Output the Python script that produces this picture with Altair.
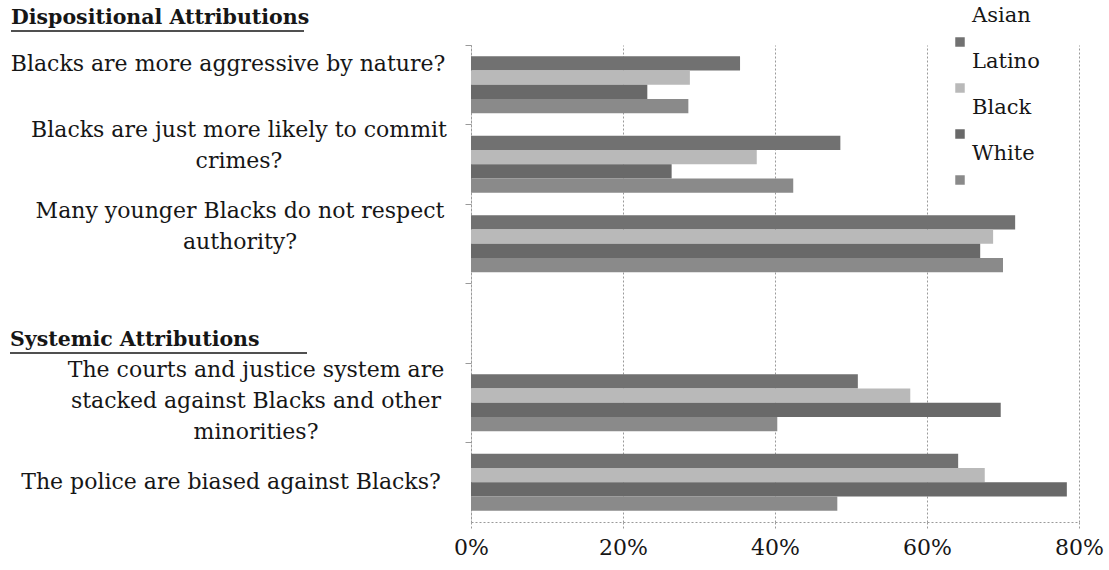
import altair as alt
import pandas as pd

# Survey items, top to bottom; "gap" is an empty row separating the two sections
item_ids = ["aggressive", "crimes", "authority", "gap", "courts", "police"]

groups = ["Asian", "Latino", "Black", "White"]
group_colors = ["#717171", "#b9b9b9", "#696969", "#8a8a8a"]

# Share agreeing (percent) per group, for the five items that have bars
bar_items = ["aggressive", "crimes", "authority", "courts", "police"]
asian = [35.4, 48.6, 71.6, 50.9, 64.1]
latino = [28.8, 37.6, 68.7, 57.8, 67.6]
black = [23.2, 26.4, 67.0, 69.7, 78.4]
white = [28.6, 42.4, 70.0, 40.3, 48.2]

# Item wording shown at the left of each row
bar_item_labels = [
    "Blacks are more aggressive by nature?",
    "Blacks are just more likely to commit\ncrimes?",
    "Many younger Blacks do not respect\nauthority?",
    "The courts and justice system are\nstacked against Blacks and other\nminorities?",
    "The police are biased against Blacks?",
]

x_ticks = [0, 0.2, 0.4, 0.6, 0.8]

# Layout (pixels): plot origin, label centre x and first-line y
W, H = 608, 477
LEFT, TOP = 471, 45
label_center_px = [228, 239, 240, 256, 231]
label_first_line_px = [64, 130, 211, 370, 482]
FONT = "DejaVu Serif"
INK = "#161616"
GRID = "#9a9a9a"

rows = []
for g, vals in zip(groups, [asian, latino, black, white]):
    for item, v in zip(bar_items, vals):
        rows.append({"item": item, "group": g, "value": v / 100})
bars_df = pd.DataFrame(rows)

labels_df = pd.DataFrame({
    "item": bar_items,
    "label": bar_item_labels,
    "cx": [c - LEFT for c in label_center_px],
    "cy": [c - TOP for c in label_first_line_px],
})

legend_df = pd.DataFrame({
    "group": groups,
    "rank": list(range(len(groups))),
})
legend_df["ty"] = -29 + 46 * legend_df["rank"]
legend_df["sy"] = legend_df["ty"] + 26

y_scale = alt.Scale(domain=item_ids, paddingInner=0, paddingOuter=0)
color_scale = alt.Scale(domain=groups, range=group_colors)

bars = alt.Chart(bars_df).mark_bar().encode(
    x=alt.X(
        "value:Q",
        scale=alt.Scale(domain=[0, 0.8], nice=False),
        axis=alt.Axis(
            values=x_ticks, format="%", title=None, grid=True,
            gridDash=[2, 2], gridColor=GRID, gridWidth=1,
            domainDash=[2, 2], domainColor=GRID,
            tickSize=6, tickColor=GRID, tickDash=[2, 2],
            labelFont=FONT, labelFontSize=22, labelColor=INK,
            labelPadding=9, labelFlush=False,
        ),
    ),
    y=alt.Y(
        "item:N", scale=y_scale, sort=item_ids,
        axis=alt.Axis(
            labels=False, title=None, bandPosition=0, grid=False,
            domainDash=[2, 2], domainColor=GRID,
            tickSize=6, tickColor=GRID,
        ),
    ),
    yOffset=alt.YOffset(
        "group:N", sort=groups,
        scale=alt.Scale(domain=groups, paddingInner=0, paddingOuter=0.78),
    ),
    color=alt.Color("group:N", scale=color_scale, legend=None),
)

item_text = alt.Chart(labels_df).mark_text(
    align="center", baseline="middle", lineBreak="\n",
    font=FONT, fontSize=22, lineHeight=31, color=INK,
).encode(
    x=alt.X("cx:Q", scale=None, axis=None),
    y=alt.Y("cy:Q", scale=None, axis=None),
    text="label:N",
)

heading_style = dict(align="left", baseline="middle", font=FONT,
                     fontSize=20.5, fontWeight="bold", color=INK)
head1 = alt.Chart().mark_text(**heading_style).encode(
    x=alt.value(11 - LEFT), y=alt.value(18 - TOP),
    text=alt.value("Dispositional Attributions"),
)
head2 = alt.Chart().mark_text(**heading_style).encode(
    x=alt.value(10 - LEFT), y=alt.value(340 - TOP),
    text=alt.value("Systemic Attributions"),
)
under1 = alt.Chart().mark_rule(color=INK, strokeWidth=1.5).encode(
    x=alt.value(11 - LEFT), x2=alt.value(304 - LEFT), y=alt.value(31 - TOP),
)
under2 = alt.Chart().mark_rule(color=INK, strokeWidth=1.5).encode(
    x=alt.value(10 - LEFT), x2=alt.value(307 - LEFT), y=alt.value(353 - TOP),
)

legend_text = alt.Chart(legend_df).mark_text(
    align="left", baseline="middle", font=FONT, fontSize=21, color=INK,
).encode(
    x=alt.value(972 - LEFT),
    y=alt.Y("ty:Q", scale=None, axis=None),
    text="group:N",
)
legend_marks = alt.Chart(legend_df).mark_square(size=90, opacity=1, filled=True).encode(
    x=alt.value(960 - LEFT),
    y=alt.Y("sy:Q", scale=None, axis=None),
    color=alt.Color("group:N", scale=color_scale, legend=None),
)

chart = alt.layer(
    bars, item_text, head1, head2, under1, under2, legend_text, legend_marks
).resolve_scale(
    x="independent", y="independent"
).properties(
    width=W, height=H,
    autosize=alt.AutoSizeParams(type="none"),
    padding={"left": LEFT, "top": TOP, "right": 1109 - LEFT - W, "bottom": 570 - TOP - H},
    background="white",
).configure_view(stroke=None)

chart.save("out.html", embed_options={"renderer": "svg", "actions": False})
